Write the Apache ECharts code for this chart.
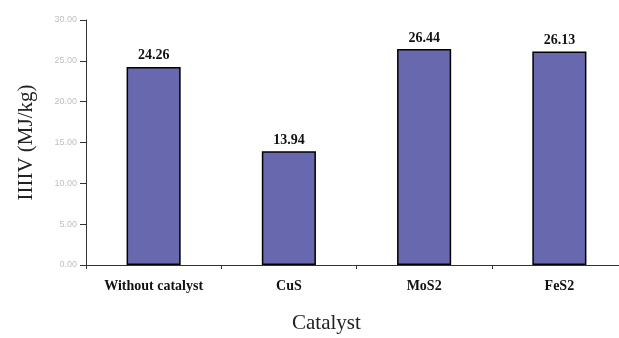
<!DOCTYPE html>
<html><head><meta charset="utf-8">
<script src="https://cdn.jsdelivr.net/npm/echarts@6/dist/echarts.min.js"></script>
<style>html,body{margin:0;padding:0;background:#fff}#c{width:619px;height:338px}</style>
</head><body><div id="c"></div>
<script>
const categories = ["Without catalyst", "CuS", "MoS2", "FeS2"];
const values = [24.26, 13.94, 26.44, 26.13];
const yTicks = [0, 5, 10, 15, 20, 25, 30];
const yName = "IIIIV (MJ/kg)";
const xName = "Catalyst";

const chart = echarts.init(document.getElementById('c'));
chart.setOption({
  animation: false,
  grid: {left: 86, top: 20, bottom: 73, right: -8, containLabel: false, outerBoundsMode: 'none'},
  xAxis: {
    type: 'category', data: categories,
    axisLine: {lineStyle: {color: '#333', width: 1}},
    axisTick: {show: true, length: 4, alignWithLabel: false, lineStyle: {color: '#333'}},
    axisLabel: {margin: 14, fontFamily: 'Liberation Serif', fontWeight: 'bold', fontSize: 14, color: '#111'}
  },
  yAxis: {
    type: 'value', min: yTicks[0], max: yTicks[yTicks.length-1], interval: 5,
    name: yName, nameLocation: 'middle', nameGap: 49, nameRotate: 90,
    nameTextStyle: {fontFamily: 'Liberation Serif', fontSize: 21, color: '#222'},
    axisLine: {show: true, lineStyle: {color: '#333', width: 1}},
    axisTick: {show: true, length: 6, inside: false, lineStyle: {color: '#333'}},
    splitLine: {show: false},
    axisLabel: {margin: 9, fontSize: 9, fontFamily: 'Liberation Sans', color: '#c0c0c0', formatter: v => v.toFixed(2)}
  },
  graphic: [{type: 'text', left: 292, top: 313, style: {text: xName, font: '21px "Liberation Serif"', fill: '#222'}}],
  series: [{
    type: 'bar', data: values, barWidth: '40%',
    itemStyle: {color: '#6868ae', borderColor: '#000', borderWidth: 1.5},
    label: {show: true, position: 'top', distance: 4, fontFamily: 'Liberation Serif', fontWeight: 'bold', fontSize: 14, color: '#111', formatter: p => p.value.toFixed(2)}
  }]
});
</script></body></html>
